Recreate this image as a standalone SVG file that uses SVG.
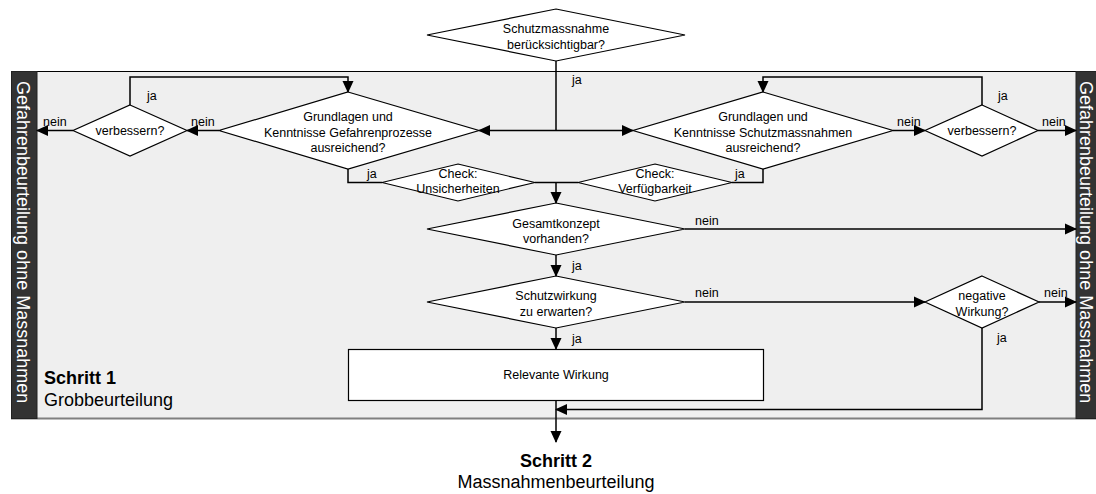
<svg xmlns="http://www.w3.org/2000/svg" width="1096" height="494" viewBox="0 0 1096 494">
  <style>
    text { font-family: "Liberation Sans", Arial, sans-serif; fill: #000; }
    .t { font-size: 12.5px; text-anchor: middle; }
    .lbl { font-size: 12.5px; }
    .big { font-size: 18px; }
    .bold { font-weight: bold; }
    .shape { fill: #fff; stroke: #000; stroke-width: 1.2; }
    .strip { fill: #333333; stroke: #222; stroke-width: 1; }
    .striptext { font-size: 18px; fill: #fff; }
    #connectors path, #connectors line { fill: none; stroke: #000; stroke-width: 1.5; }
  </style>
  <defs>
    <marker id="arrow" markerUnits="userSpaceOnUse" markerWidth="12" markerHeight="12" viewBox="0 0 12 12" refX="11" refY="6" orient="auto">
      <path d="M0,0.5 L12,6 L0,11.5 Z" fill="#000"/>
    </marker>
  </defs>

  <!-- step 1 panel -->
  <g id="panel">
    <rect x="37" y="71" width="1039" height="347" fill="#efefef"/>
    <line x1="37" y1="71.5" x2="1076" y2="71.5" stroke="#000" stroke-width="1"/>
    <line x1="11" y1="418.5" x2="1096" y2="418.5" stroke="#7f7f7f" stroke-width="2"/>
  </g>

  <!-- side strips -->
  <g id="strip-left">
    <rect class="strip" x="11.5" y="71.5" width="25.5" height="347"/>
    <text class="striptext" transform="translate(17,81) rotate(90)">Gefahrenbeurteilung ohne Massnahmen</text>
  </g>
  <g id="strip-right">
    <rect class="strip" x="1076" y="71.5" width="26" height="347"/>
    <text class="striptext" transform="translate(1080,81) rotate(90)">Gefahrenbeurteilung ohne Massnahmen</text>
  </g>

  <!-- connectors -->
  <g id="connectors">
    <line x1="556" y1="61" x2="556" y2="130.5"/>
    <line x1="556" y1="130.5" x2="479" y2="130.5" marker-end="url(#arrow)"/>
    <line x1="556" y1="130.5" x2="633" y2="130.5" marker-end="url(#arrow)"/>
    <line x1="219" y1="130.5" x2="187" y2="130.5" marker-end="url(#arrow)"/>
    <line x1="73" y1="130.5" x2="37" y2="130.5" marker-end="url(#arrow)"/>
    <path d="M130,105 V77 H348 V92" marker-end="url(#arrow)"/>
    <line x1="893" y1="130.5" x2="925" y2="130.5" marker-end="url(#arrow)"/>
    <line x1="1038" y1="130.5" x2="1076" y2="130.5" marker-end="url(#arrow)"/>
    <path d="M982,105 V77 H763 V92" marker-end="url(#arrow)"/>
    <path d="M348,169 V182.5 H382"/>
    <line x1="535" y1="182.5" x2="578" y2="182.5"/>
    <path d="M732,182.5 H763 V169"/>
    <line x1="556" y1="182.5" x2="556" y2="203" marker-end="url(#arrow)"/>
    <line x1="685" y1="229" x2="1076" y2="229" marker-end="url(#arrow)"/>
    <line x1="556" y1="255" x2="556" y2="276" marker-end="url(#arrow)"/>
    <line x1="685" y1="302" x2="925" y2="302" marker-end="url(#arrow)"/>
    <line x1="1039" y1="302" x2="1076" y2="302" marker-end="url(#arrow)"/>
    <line x1="556" y1="328" x2="556" y2="349" marker-end="url(#arrow)"/>
    <path d="M982,328 V409.5 H556" marker-end="url(#arrow)"/>
    <line x1="556" y1="401" x2="556" y2="442" marker-end="url(#arrow)"/>
  </g>

  <!-- connector labels -->
  <g id="labels">
    <text class="lbl" x="572" y="84">ja</text>
    <text class="lbl" x="147" y="100">ja</text>
    <text class="lbl" x="43" y="126">nein</text>
    <text class="lbl" x="191" y="126">nein</text>
    <text class="lbl" x="367" y="178">ja</text>
    <text class="lbl" x="735" y="178">ja</text>
    <text class="lbl" x="897" y="126">nein</text>
    <text class="lbl" x="1042" y="126">nein</text>
    <text class="lbl" x="998" y="100">ja</text>
    <text class="lbl" x="695" y="225">nein</text>
    <text class="lbl" x="572" y="270">ja</text>
    <text class="lbl" x="695" y="297">nein</text>
    <text class="lbl" x="572" y="343">ja</text>
    <text class="lbl" x="1044" y="297">nein</text>
    <text class="lbl" x="997" y="342">ja</text>
  </g>

  <g id="node-schutzmassnahme">
    <polygon class="shape" points="556,9 685,35 556,61 427,35"/>
    <text class="t" x="556" y="33">Schutzmassnahme</text>
    <text class="t" x="556" y="49">berücksichtigbar?</text>
  </g>

  <g id="node-grundlagen-gefahren">
    <polygon class="shape" points="348,92 479,130.5 348,169 219,130.5"/>
    <text class="t" x="348" y="121">Grundlagen und</text>
    <text class="t" x="348" y="136.5">Kenntnisse Gefahrenprozesse</text>
    <text class="t" x="348" y="152">ausreichend?</text>
  </g>

  <g id="node-verbessern-links">
    <polygon class="shape" points="130,105 187,130.5 130,156 73,130.5"/>
    <text class="t" x="130" y="135">verbessern?</text>
  </g>

  <g id="node-grundlagen-schutz">
    <polygon class="shape" points="763,92 893,130.5 763,169 633,130.5"/>
    <text class="t" x="763" y="121">Grundlagen und</text>
    <text class="t" x="763" y="136.5">Kenntnisse Schutzmassnahmen</text>
    <text class="t" x="763" y="152">ausreichend?</text>
  </g>

  <g id="node-verbessern-rechts">
    <polygon class="shape" points="982,105 1038,130.5 982,156 925,130.5"/>
    <text class="t" x="982" y="135">verbessern?</text>
  </g>

  <g id="node-check-unsicherheiten">
    <polygon class="shape" points="458,164 535,182.5 458,201 382,182.5"/>
    <text class="t" x="458" y="178">Check:</text>
    <text class="t" x="458" y="193">Unsicherheiten</text>
  </g>

  <g id="node-check-verfuegbarkeit">
    <polygon class="shape" points="655,164 732,182.5 655,201 578,182.5"/>
    <text class="t" x="655" y="178">Check:</text>
    <text class="t" x="655" y="193">Verfügbarkeit</text>
  </g>

  <g id="node-gesamtkonzept">
    <polygon class="shape" points="556,203 685,229 556,255 427,229"/>
    <text class="t" x="556" y="228">Gesamtkonzept</text>
    <text class="t" x="556" y="243">vorhanden?</text>
  </g>

  <g id="node-schutzwirkung">
    <polygon class="shape" points="556,276 685,302 556,328 427,302"/>
    <text class="t" x="556" y="300">Schutzwirkung</text>
    <text class="t" x="556" y="316">zu erwarten?</text>
  </g>

  <g id="node-negative-wirkung">
    <polygon class="shape" points="982,276 1039,302 982,328 925,302"/>
    <text class="t" x="982" y="300">negative</text>
    <text class="t" x="982" y="316">Wirkung?</text>
  </g>

  <g id="node-relevante-wirkung">
    <rect class="shape" x="348.5" y="349.5" width="415" height="51"/>
    <text class="t" x="556" y="379">Relevante Wirkung</text>
  </g>

  <g id="node-schritt1">
    <text class="big bold" x="44" y="384">Schritt 1</text>
    <text class="big" x="44" y="406">Grobbeurteilung</text>
  </g>

  <g id="node-schritt2">
    <text class="big bold" x="556" y="467" text-anchor="middle">Schritt 2</text>
    <text class="big" x="556" y="488" text-anchor="middle">Massnahmenbeurteilung</text>
  </g>
</svg>
